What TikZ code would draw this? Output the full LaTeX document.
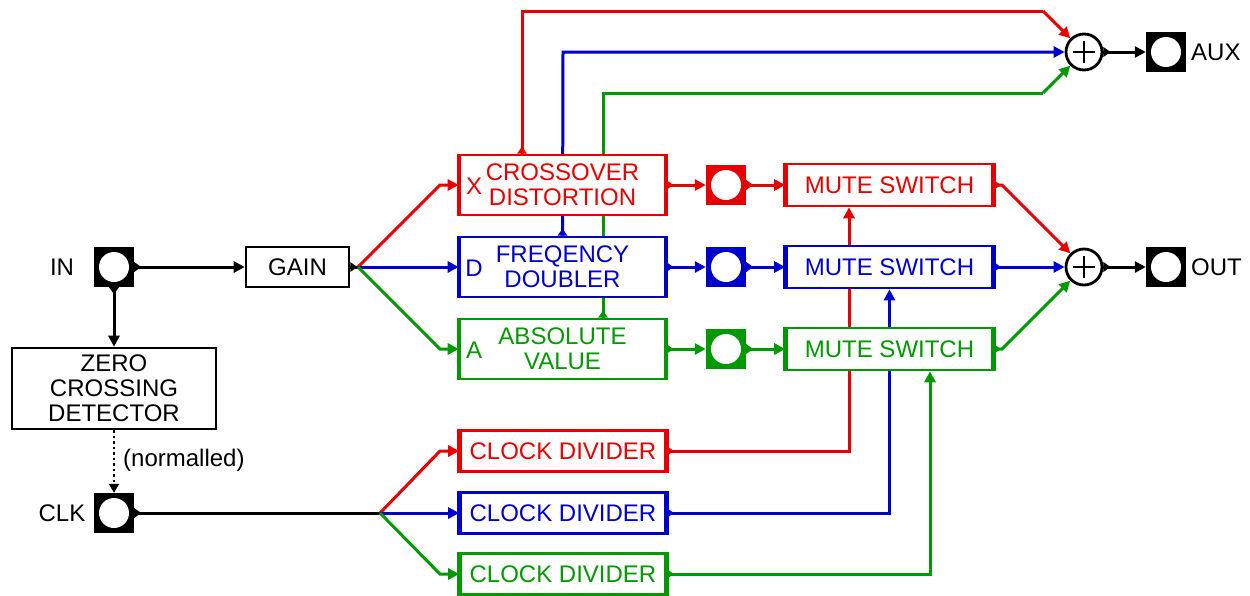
\documentclass[tikz,border=0pt]{standalone}
\usepackage{fontspec}
\setmainfont{Liberation Sans}
\usetikzlibrary{arrows.meta,backgrounds}
\definecolor{myred}{RGB}{230,0,0}
\definecolor{myblue}{RGB}{0,0,204}
\definecolor{mygreen}{RGB}{0,153,0}
\newcommand\mkR[2]{\fill[#1] (#2) ++(0,-5) -- ++(7,5) -- ++(-7,5) -- cycle;}
\newcommand\mkU[2]{\fill[#1] (#2) ++(-5,0) -- ++(5,-7) -- ++(5,7) -- cycle;}
\newcommand\mkD[2]{\fill[#1] (#2) ++(-5,0) -- ++(5,7) -- ++(5,-7) -- cycle;}
\newcommand\thicksides[2]{\draw[#1,line width=4.2pt] (#2.north west) -- (#2.south west) (#2.north east) -- (#2.south east);}
\tikzset{
  txt/.style={font=\fontsize{24}{25}\selectfont, inner sep=0pt, align=center},
  box/.style={draw, fill=white, line width=2.6pt, inner sep=0pt, align=center, font=\fontsize{24}{25}\selectfont},
  jack/.style={fill=#1, minimum size=40pt, inner sep=0pt,
    path picture={\fill[white] (path picture bounding box.center) circle (15pt);}},
  sumnode/.style={circle, draw, fill=white, line width=2.8pt, minimum size=36pt, inner sep=0pt,
    path picture={\draw[line width=2.8pt] (path picture bounding box.center) ++(-11pt,0) -- ++(22pt,0)
      (path picture bounding box.center) ++(0,-11pt) -- ++(0,22pt);}},
  wire/.style={line width=3pt},
  arr/.style={wire, -{Triangle[length=11pt,width=11pt]}},
}
\begin{document}
\begin{tikzpicture}[x=1pt,y=-1pt]
\useasboundingbox (0,0) rectangle (1250,595);
% jacks
\node[jack=black] (IN) at (114,267) {};
\node[jack=black] (CLK) at (114,513) {};
\node[jack=black] (AUX) at (1166,52) {};
\node[jack=black] (OUT) at (1166,267) {};
\node[jack=myred] (RJ) at (726,185) {};
\node[jack=myblue] (BJ) at (726,267) {};
\node[jack=mygreen] (GJ) at (726,349) {};
\node[txt] (INl) at (62,267) {IN};
\node[txt] (CLKl) at (62,513) {CLK};
\node[txt,anchor=west] (AUXl) at (1191,52) {AUX};
\node[txt,anchor=west] (OUTl) at (1191,267) {OUT};
% boxes
\node[box,minimum width=103pt,minimum height=40pt] (GAIN) at (297.5,267) {GAIN};
\node[box,minimum width=204pt,minimum height=81pt] (ZCD) at (114,388.5) {ZERO\\CROSSING\\DETECTOR};
\node[box,draw=myred,text=myred,minimum width=205pt,minimum height=60pt] (XD) at (562.5,185) {CROSSOVER\\DISTORTION};
\node[box,draw=myblue,text=myblue,minimum width=205pt,minimum height=60pt] (DD) at (562.5,267) {FREQENCY\\DOUBLER};
\node[box,draw=mygreen,text=mygreen,minimum width=205pt,minimum height=60pt] (AV) at (562.5,349) {ABSOLUTE\\VALUE};
\node[txt,text=myred] (Xl) at (474,186) {X};
\node[txt,text=myblue] (Dl) at (474,268) {D};
\node[txt,text=mygreen] (Al) at (474,350) {A};
\node[box,draw=myred,text=myred,minimum width=206pt,minimum height=42pt] (MS1) at (889.5,185) {MUTE SWITCH};
\node[box,draw=myblue,text=myblue,minimum width=206pt,minimum height=42pt] (MS2) at (889.5,267) {MUTE SWITCH};
\node[box,draw=mygreen,text=mygreen,minimum width=206pt,minimum height=42pt] (MS3) at (889.5,349) {MUTE SWITCH};
\node[box,draw=myred,text=myred,minimum width=205pt,minimum height=41pt] (CD1) at (563,451) {CLOCK DIVIDER};
\node[box,draw=myblue,text=myblue,minimum width=205pt,minimum height=41pt] (CD2) at (563,513) {CLOCK DIVIDER};
\node[box,draw=mygreen,text=mygreen,minimum width=205pt,minimum height=41pt] (CD3) at (563,574) {CLOCK DIVIDER};
\node[sumnode] (S1) at (1084,52) {};
\node[sumnode] (S2) at (1084,267) {};
\node[txt,anchor=west] (norm) at (123,460) {(normalled)};
% thick sides
\thicksides{myred}{XD}\thicksides{myblue}{DD}\thicksides{mygreen}{AV}
\thicksides{myred}{MS1}\thicksides{myblue}{MS2}\thicksides{mygreen}{MS3}
\thicksides{myred}{CD1}\thicksides{myblue}{CD2}\thicksides{mygreen}{CD3}
% coordinates
\coordinate (gb) at (358,267);
\coordinate (cb) at (380,513);
\begin{scope}[on background layer]
\draw[wire,myred] (XD.north -| 522,0) -- (522,11) -- (1043,11);
\draw[arr,myred] (1043,11) -- (S1.135);
\draw[arr,myblue] (DD.north) -- (563,52) -- (S1.west);
\draw[wire,mygreen] (AV.north -| 603,0) -- (603,93) -- (1043,93);
\draw[arr,mygreen] (1043,93) -- (S1.225);
\draw[arr,myred] (CD1.east) -| ([xshift=-40.5pt]MS1.south);
\draw[arr,myblue] (CD2.east) -| (MS2.south);
\draw[arr,mygreen] (CD3.east) -| ([xshift=40.5pt]MS3.south);
\end{scope}
% black connectors
\draw[arr] (IN.east) -- (GAIN.west);
\draw[arr] (IN.south) -- (ZCD.north);
\draw[line width=2.5pt, dash pattern=on 2.5pt off 3pt, -{Triangle[length=9pt,width=10pt]}] (ZCD.south) -- (CLK.north);
\draw[wire] (GAIN.east) -- (gb);
\draw[wire] (CLK.east) -- (cb);
% gain branches
\draw[arr,myred] (gb) -- (440,185) -- (XD.west);
\draw[arr,myblue] (gb) -- (DD.west);
\draw[arr,mygreen] (gb) -- (440,349) -- (AV.west);
% clock branches
\draw[arr,myred] (cb) -- (440,451) -- (CD1.west);
\draw[arr,myblue] (cb) -- (CD2.west);
\draw[arr,mygreen] (cb) -- (440,574) -- (CD3.west);
% chain
\draw[arr,myred] (XD.east) -- (RJ.west);
\draw[arr,myblue] (DD.east) -- (BJ.west);
\draw[arr,mygreen] (AV.east) -- (GJ.west);
\draw[arr,myred] (RJ.east) -- (MS1.west);
\draw[arr,myblue] (BJ.east) -- (MS2.west);
\draw[arr,mygreen] (GJ.east) -- (MS3.west);
\draw[arr,myred] (MS1.east) -- (1002,185) -- (S2.135);
\draw[arr,myblue] (MS2.east) -- (S2.west);
\draw[arr,mygreen] (MS3.east) -- (1002,349) -- (S2.225);
\draw[arr] (S1.east) -- (AUX.west);
\draw[arr] (S2.east) -- (OUT.west);
% output markers
\mkR{black}{IN.east}\mkD{black}{IN.south}\mkR{black}{CLK.east}\mkR{black}{GAIN.east}
\mkR{black}{S1.east}\mkR{black}{S2.east}
\mkR{myred}{XD.east}\mkR{myblue}{DD.east}\mkR{mygreen}{AV.east}
\mkU{myred}{XD.north -| 522,0}\mkU{myblue}{DD.north}\mkU{mygreen}{AV.north -| 603,0}
\mkR{myred}{RJ.east}\mkR{myblue}{BJ.east}\mkR{mygreen}{GJ.east}
\mkR{myred}{MS1.east}\mkR{myblue}{MS2.east}\mkR{mygreen}{MS3.east}
\mkR{myred}{CD1.east}\mkR{myblue}{CD2.east}\mkR{mygreen}{CD3.east}
\end{tikzpicture}
\end{document}
